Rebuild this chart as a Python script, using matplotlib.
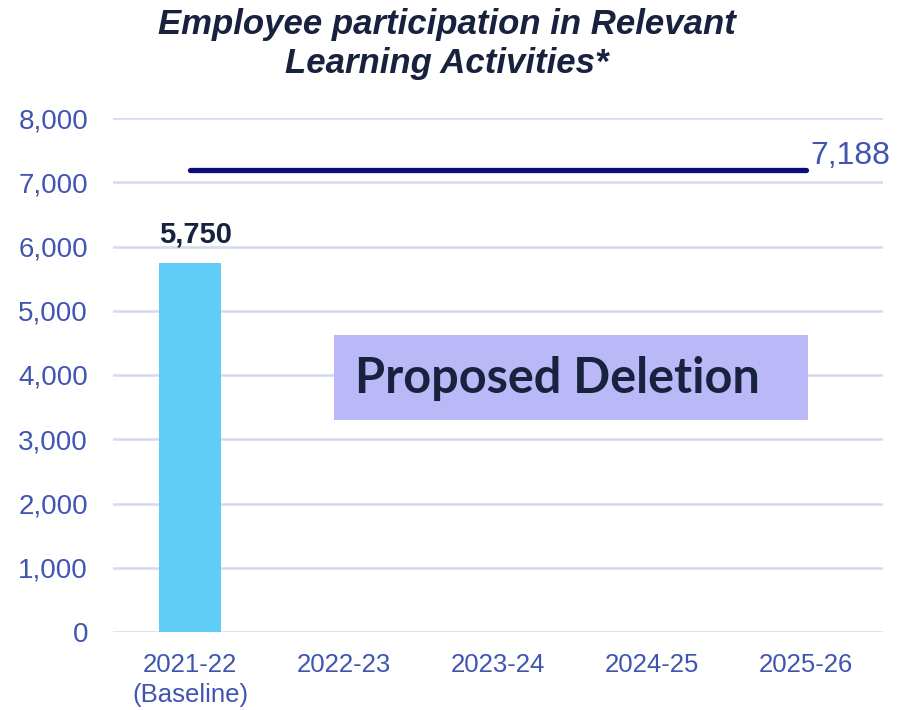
import matplotlib.pyplot as plt
from matplotlib.patches import Rectangle

categories = ["2021-22\n(Baseline)", "2022-23", "2023-24", "2024-25", "2025-26"]
actual = [5750, None, None, None, None]
target = 7188
yticks = [0, 1000, 2000, 3000, 4000, 5000, 6000, 7000, 8000]

tick_color = "#3f55b0"
dark = "#18223f"

fig = plt.figure(figsize=(8.97, 7.10), dpi=100)
ax = fig.add_axes([113 / 897, 1 - 632 / 710, 770 / 897, 514 / 710])

x = list(range(len(categories)))
bar_x = [i for i, v in enumerate(actual) if v is not None]
bar_v = [v for v in actual if v is not None]
ax.bar(bar_x, bar_v, width=0.4, color="#5fcdf5", zorder=3)
for xi, v in zip(bar_x, bar_v):
    ax.annotate(f"{v:,}", (xi, v), xytext=(4, 10), textcoords="offset points",
                ha="center", va="bottom", fontsize=21, fontweight="bold",
                color=dark, family="Liberation Sans")

ax.plot([x[0], x[-1]], [target, target], color="#0c0c80", lw=3.8,
        solid_capstyle="round", zorder=4)
ax.annotate(f"{target:,}", (x[-1], target), xytext=(3, -0.5), textcoords="offset points",
            ha="left", va="bottom", fontsize=23, color=tick_color,
            family="Liberation Sans")

ax.set_xlim(-0.5, len(categories) - 0.5)
ax.set_ylim(0, 8000)
ax.set_yticks(yticks)
ax.set_yticklabels([f"{t:,}" for t in yticks], fontsize=20, color=tick_color,
                   family="Liberation Sans")
ax.set_xticks(x)
ax.set_xticklabels(categories, fontsize=18.5, color=tick_color,
                   family="Liberation Sans", linespacing=1.3)
ax.tick_params(length=0)
ax.tick_params(axis="x", pad=15)
ax.tick_params(axis="y", pad=18)
ax.grid(axis="y", color="#d3daee", lw=1.8, zorder=0)
for s in ax.spines.values():
    s.set_visible(False)

box = Rectangle((334 / 897, 1 - 420 / 710), 474 / 897, 85 / 710,
                transform=fig.transFigure, facecolor="#bbb8f8", edgecolor="none",
                zorder=5)
fig.patches.append(box)
fig.text(355 / 897, 1 - 379 / 710, "Proposed Deletion", fontsize=35,
         fontweight="bold", color=dark, va="center", ha="left", family="Lato",
         zorder=6)

fig.text(447 / 897, 1 - 44 / 710,
         "Employee participation in Relevant\nLearning Activities*",
         ha="center", va="center", fontsize=25, fontweight="bold", style="italic",
         color=dark, family="Liberation Sans", linespacing=1.2)

fig.savefig("out.png", dpi=100)
